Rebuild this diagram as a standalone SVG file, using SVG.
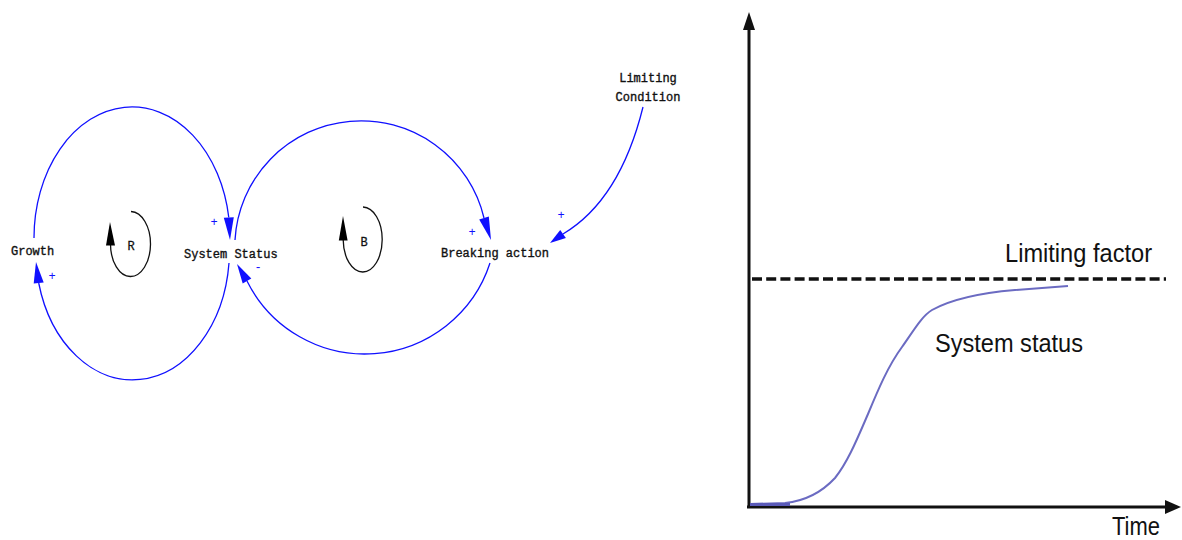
<svg xmlns="http://www.w3.org/2000/svg" width="1182" height="540" viewBox="0 0 1182 540">
<style>
.lbl{font-family:"Liberation Mono","DejaVu Sans Mono",monospace;font-size:12px;fill:#111;stroke:#111;stroke-width:0.35}
.sign{font-family:"Liberation Mono","DejaVu Sans Mono",monospace;font-size:12px;fill:#1010ff;text-anchor:middle}
.link{fill:none;stroke:#1010ff;stroke-width:1.3}
.ah{fill:#1010ff}
.loop{fill:none;stroke:#111;stroke-width:1.3}
.lah{fill:#000}
.loopid{font-family:"Liberation Mono","DejaVu Sans Mono",monospace;font-size:12px;fill:#111;stroke:#111;stroke-width:0.3;text-anchor:middle}
.axis{stroke:#111;stroke-width:3;fill:none}
.axh{fill:#111}
.chart{font-family:"Liberation Sans",Arial,sans-serif;font-size:26px;fill:#111}
</style>
<rect width="1182" height="540" fill="#fff"/>

<g id="connectors">
  <path class="link" d="M34,238 A98,131 0 0 1 228.8,217.5"/>
  <polygon class="ah" points="230,240 233.8,217.2 223.8,217.8"/>
  <path class="link" d="M229,263 A97,130 0 0 1 38.7,283"/>
  <polygon class="ah" points="36,262 43.7,282.4 33.7,283.6"/>
  <path class="link" d="M235,240 A126.3,126.3 0 0 1 484,218"/>
  <polygon class="ah" points="491,240 488.8,216.5 479.2,219.5"/>
  <path class="link" d="M490,263 A131.6,131.6 0 0 1 247,281"/>
  <polygon class="ah" points="237,264 251.3,278.5 242.7,283.5"/>
  <path class="link" d="M643,107 Q620,200 563,234"/>
  <polygon class="ah" points="550,243 565.9,238.1 560.2,229.9"/>
  <text class="sign" x="214" y="226">+</text>
  <text class="sign" x="52" y="280">+</text>
  <text class="sign" x="258" y="271">-</text>
  <text class="sign" x="472" y="236">+</text>
  <text class="sign" x="561" y="219">+</text>
</g>

<g id="node-growth"><text class="lbl" x="11" y="255">Growth</text></g>
<g id="node-system-status"><text class="lbl" x="184" y="258">System Status</text></g>
<g id="node-breaking-action"><text class="lbl" x="441" y="257">Breaking action</text></g>
<g id="node-limiting-condition">
  <text class="lbl" x="648" y="82" text-anchor="middle">Limiting</text>
  <text class="lbl" x="648" y="101" text-anchor="middle">Condition</text>
</g>

<g id="loop-R">
  <path class="loop" d="M131,211.5 A20,32.5 0 1 1 110.5,244"/>
  <polygon class="lah" points="110,222 106,245.5 115,245.5"/>
  <text class="loopid" x="131" y="250">R</text>
</g>
<g id="loop-B">
  <path class="loop" d="M363,207 A19.5,32.5 0 1 1 343.2,240"/>
  <polygon class="lah" points="343,216 338.8,240.5 347.6,240.5"/>
  <text class="loopid" x="364" y="246">B</text>
</g>

<g id="chart">
  <line class="axis" x1="749" y1="508" x2="749" y2="28"/>
  <polygon class="axh" points="749,12 743,30 755,30"/>
  <line class="axis" x1="747" y1="507" x2="1168" y2="507"/>
  <polygon class="axh" points="1181,507 1165,500 1165,514"/>
  <line x1="752" y1="279" x2="1166" y2="279" stroke="#111" stroke-width="3.5" stroke-dasharray="10 4.2"/>
  <path d="M750,504 L785,503 C805,501 822,492 835,478 C848,462 858,437 868,414 C878,390 888,366 902,347 C914,330 922,316 932,310 C950,300 980,293 1015,290 C1040,288 1055,287 1068,286" fill="none" stroke="#6b6bc2" stroke-width="2"/>
  <line x1="750" y1="504.5" x2="790" y2="504.5" stroke="#5a5ab8" stroke-width="3"/>
  <text class="chart" x="1005" y="262" textLength="147" lengthAdjust="spacingAndGlyphs">Limiting factor</text>
  <text class="chart" x="935" y="352" textLength="148" lengthAdjust="spacingAndGlyphs">System status</text>
  <text class="chart" x="1112" y="535" textLength="48" lengthAdjust="spacingAndGlyphs">Time</text>
</g>
</svg>
